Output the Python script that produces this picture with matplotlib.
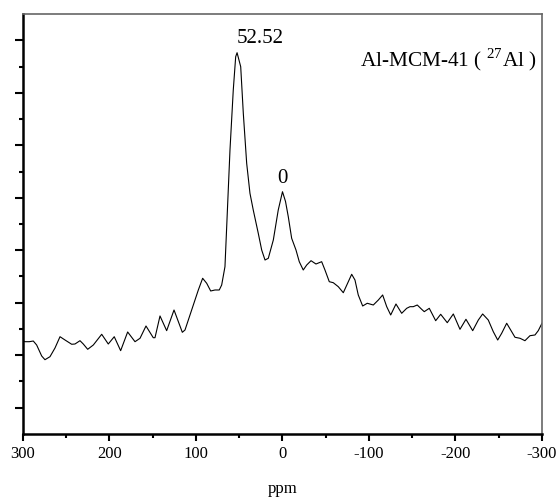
import numpy as np
import matplotlib
matplotlib.use("Agg")
import matplotlib.pyplot as plt
from matplotlib.ticker import MultipleLocator, FixedLocator, NullFormatter

plt.rcParams["font.family"] = ["Liberation Serif", "DejaVu Serif"]
plt.rcParams["mathtext.fontset"] = "custom"
plt.rcParams["mathtext.rm"] = "Liberation Serif"

# 27Al MAS NMR spektrum
ppm = [300, 297.7, 292.7, 288.1, 284.2, 278.4, 274.6, 268.8, 263.0, 257.2,
       251.4, 243.7, 239.9, 234.1, 230.3, 225.2, 218.7, 209.0, 201.4, 194.5,
       187.1, 179.0, 170.5, 164.7, 157.8, 149.4, 147.4, 141.6, 133.9, 125.4,
       115.8, 112.7, 105.0, 97.3, 92.3, 87.6, 83.0, 78.0, 73.1, 70.3,
       66.5, 64.5, 60.7, 56.9, 54.1, 52.5, 48.3, 45.3, 41.4, 37.6,
       33.8, 28.0, 24.05, 20.2, 16.4, 10.6, 4.9, 0.0, -3.5, -6.7,
       -10.6, -15.6, -19.4, -24.0, -28.0, -33.0, -38.7, -45.3, -49.1, -54.1,
       -58.7, -64.5, -70.3, -76.1, -80.0, -83.8, -87.6, -92.7, -98.0, -105.0,
       -110.8, -115.8, -120.5, -125.1, -131.2, -137.8, -143.6, -147.4, -151.2, -155.8,
       -160.9, -163.9, -169.7, -177.1, -182.9, -190.5, -197.5, -205.2, -212.1, -219.9,
       -226.4, -231.4, -237.9, -243.7, -248.8, -253.4, -259.2, -263.8, -268.8, -274.6,
       -280.3, -286.1, -291.9, -295.7, -300]
intensity = [1.771, 1.758, 1.758, 1.771, 1.695, 1.486, 1.415, 1.472, 1.638, 1.853,
             1.790, 1.709, 1.714, 1.777, 1.714, 1.613, 1.695, 1.899, 1.714, 1.853,
             1.587, 1.943, 1.758, 1.823, 2.057, 1.834, 1.834, 2.248, 1.968, 2.362,
             1.937, 1.981, 2.362, 2.743, 2.966, 2.870, 2.724, 2.743, 2.743, 2.838,
             3.187, 3.949, 5.410, 6.552, 7.187, 7.263, 6.996, 6.109, 5.156, 4.585,
             4.267, 3.823, 3.505, 3.314, 3.347, 3.695, 4.267, 4.615, 4.429, 4.139,
             3.728, 3.505, 3.282, 3.124, 3.219, 3.301, 3.238, 3.282, 3.124, 2.901,
             2.882, 2.806, 2.691, 2.901, 3.042, 2.933, 2.648, 2.438, 2.490, 2.457,
             2.552, 2.648, 2.425, 2.267, 2.476, 2.299, 2.394, 2.425, 2.425, 2.457,
             2.375, 2.330, 2.394, 2.158, 2.280, 2.120, 2.286, 1.994, 2.185, 1.968,
             2.171, 2.286, 2.171, 1.949, 1.790, 1.918, 2.109, 1.981, 1.842, 1.823,
             1.777, 1.872, 1.886, 1.968, 2.109]

peak_labels = ["52.52", "0"]
peak_pos = [52.5, 0.0]
xticks = [300, 200, 100, 0, -100, -200, -300]

fig = plt.figure(figsize=(5.58, 4.99), dpi=100)
ax = fig.add_axes([0.0412, 0.1303, 0.9301, 0.8416])

ax.plot(ppm, intensity, color="black", lw=0.8)

ax.set_xlim(300, -300)
ax.set_ylim(0, 8)

ax.set_xticks(xticks)
ax.set_xticklabels([str(t) for t in xticks], fontsize=12)
ax.xaxis.set_minor_locator(MultipleLocator(50))
ax.yaxis.set_major_locator(FixedLocator(np.arange(0.5, 8, 1.0)))
ax.yaxis.set_minor_locator(FixedLocator(np.arange(1, 8, 1.0)))
ax.yaxis.set_major_formatter(NullFormatter())

ax.tick_params(axis="x", which="major", direction="out", length=5, width=1.5, pad=4)
ax.tick_params(axis="x", which="minor", direction="out", length=3, width=1.5)
ax.tick_params(axis="y", which="major", direction="out", length=6, width=1.5)
ax.tick_params(axis="y", which="minor", direction="out", length=3, width=1.5)

for s in ["left", "bottom"]:
    ax.spines[s].set_linewidth(1.8)
    ax.spines[s].set_color("black")
for s in ["top", "right"]:
    ax.spines[s].set_linewidth(1.2)
    ax.spines[s].set_color("#666666")

ax.set_xlabel("ppm", fontsize=12, labelpad=13)

# popisky vrcholů (posun v bodech)
offsets = [(17, 7), (0, 6)]
for lab, p, off in zip(peak_labels, peak_pos, offsets):
    i = ppm.index(p)
    ax.annotate(lab, (p, intensity[i]), xytext=off, textcoords="offset points",
                ha="center", va="baseline", fontsize=15)

ax.text(0.99, 0.8745, r"Al-MCM-41 ( $^{27}$Al )", transform=ax.transAxes,
        ha="right", va="baseline", fontsize=15.3)

fig.savefig("out.png", dpi=100)
